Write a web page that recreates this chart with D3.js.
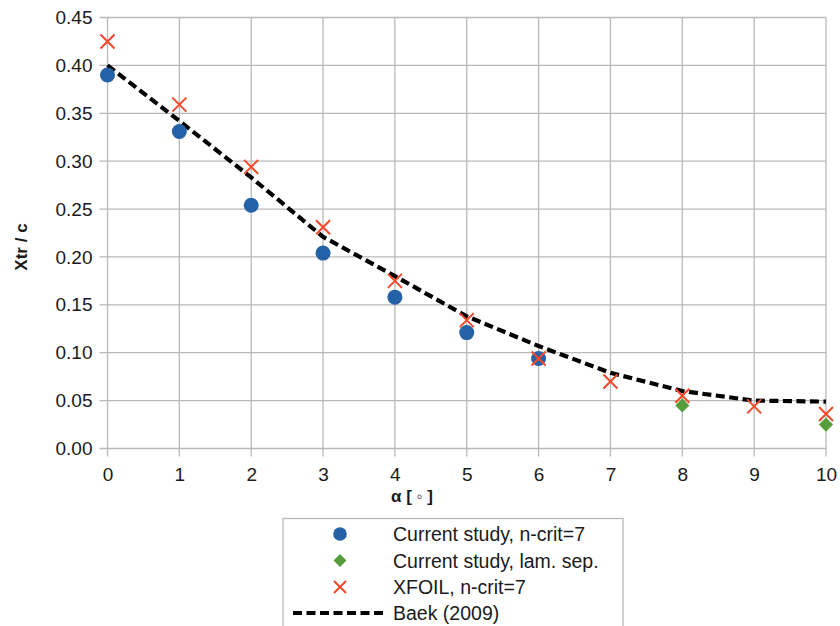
<!DOCTYPE html>
<html>
<head>
<meta charset="utf-8">
<script src="https://cdn.jsdelivr.net/npm/d3@7"></script>
<style>
  html, body { margin: 0; padding: 0; background: #fff; }
  svg { display: block; font-family: "Liberation Sans", Arial, sans-serif; }
</style>
</head>
<body>
<svg id="chart" width="840" height="626"></svg>
<script>
// Transition location vs. angle of attack
const alphaValues = [0, 1, 2, 3, 4, 5, 6, 7, 8, 9, 10];
const xTicks = [0, 1, 2, 3, 4, 5, 6, 7, 8, 9, 10];
const yTicks = [0, 0.05, 0.10, 0.15, 0.20, 0.25, 0.30, 0.35, 0.40, 0.45];

// Current study, n-crit = 7 (alpha 0..6)
const currentAlpha = [0, 1, 2, 3, 4, 5, 6];
const currentXtr = [0.390, 0.331, 0.254, 0.204, 0.158, 0.121, 0.094];

// Current study, laminar separation
const lamSepAlpha = [8, 10];
const lamSepXtr = [0.045, 0.025];

// XFOIL, n-crit = 7
const xfoilAlpha = [0, 1, 2, 3, 4, 5, 6, 7, 8, 9, 10];
const xfoilXtr = [0.425, 0.359, 0.294, 0.231, 0.175, 0.134, 0.094, 0.070, 0.055, 0.044, 0.036];

// Baek (2009)
const baekXtr = [0.400, 0.342, 0.283, 0.221, 0.180, 0.138, 0.107, 0.079, 0.060, 0.050, 0.049];

const legendLabels = [
  "Current study, n-crit=7",
  "Current study, lam. sep.",
  "XFOIL, n-crit=7",
  "Baek (2009)"
];

const colors = { blue: "#2461a6", green: "#579d3c", red: "#f5492a", grid: "#b9b9b9" };

const svg = d3.select("#chart");
const plot = { left: 107.5, right: 826, top: 17.5, bottom: 448.5 };

const x = d3.scaleLinear().domain([0, 10]).range([plot.left, plot.right]);
const y = d3.scaleLinear().domain([0, 0.45]).range([plot.bottom, plot.top]);

// Grid lines with tick extensions
const grid = svg.append("g");
grid.selectAll("line.h").data(yTicks).join("line")
  .attr("x1", plot.left - 8).attr("x2", plot.right)
  .attr("y1", d => y(d)).attr("y2", d => y(d))
  .attr("stroke", colors.grid).attr("stroke-width", 1.3);
grid.selectAll("line.v").data(xTicks).join("line")
  .attr("x1", d => x(d)).attr("x2", d => x(d))
  .attr("y1", plot.top).attr("y2", plot.bottom + 8)
  .attr("stroke", colors.grid).attr("stroke-width", 1.3);

// Axes labels via d3 axes (lines hidden, grid drawn above)
const yAxis = svg.append("g")
  .attr("transform", `translate(${plot.left - 15},0)`)
  .call(d3.axisLeft(y).tickValues(yTicks).tickFormat(d3.format(".2f")).tickSize(0).tickPadding(0));
yAxis.select(".domain").remove();
yAxis.selectAll("text").attr("font-size", 19).attr("fill", "#1a1a1a")
  .attr("font-family", "Liberation Sans, Arial, sans-serif");

const xAxis = svg.append("g")
  .attr("transform", `translate(0,${plot.bottom + 19})`)
  .call(d3.axisBottom(x).tickValues(xTicks).tickFormat(d3.format("d")).tickSize(0).tickPadding(0));
xAxis.select(".domain").remove();
xAxis.selectAll("text").attr("font-size", 19).attr("fill", "#1a1a1a")
  .attr("font-family", "Liberation Sans, Arial, sans-serif");

// Axis titles
svg.append("text")
  .attr("x", 412).attr("y", 502)
  .attr("text-anchor", "middle")
  .attr("font-size", 17).attr("font-weight", "bold").attr("fill", "#1a1a1a")
  .text("α [ ◦ ]");
svg.append("text")
  .attr("transform", "translate(27,247) rotate(-90)")
  .attr("text-anchor", "middle")
  .attr("font-size", 17).attr("font-weight", "bold").attr("fill", "#1a1a1a")
  .text("Xtr / c");

// Baek (2009) dashed line
const line = d3.line().x((d, i) => x(alphaValues[i])).y(d => y(d));
svg.append("path")
  .datum(baekXtr)
  .attr("d", line)
  .attr("fill", "none").attr("stroke", "#000").attr("stroke-width", 4.2)
  .attr("stroke-dasharray", "9,4.5");

// Marker helpers
function drawCross(g, cx, cy, h, w) {
  g.append("path")
    .attr("d", `M${cx - h},${cy - h}L${cx + h},${cy + h}M${cx - h},${cy + h}L${cx + h},${cy - h}`)
    .attr("stroke", colors.red).attr("stroke-width", w).attr("fill", "none");
}
const diamond = d3.symbol().type(d3.symbolDiamond2 || d3.symbolSquare2);

// Current study circles
svg.append("g").selectAll("circle")
  .data(currentXtr).join("circle")
  .attr("cx", (d, i) => x(currentAlpha[i])).attr("cy", d => y(d))
  .attr("r", 7.5).attr("fill", colors.blue);

// Laminar separation diamonds
svg.append("g").selectAll("path")
  .data(lamSepXtr).join("path")
  .attr("d", d3.symbol().type(d3.symbolSquare).size(100)())
  .attr("transform", (d, i) => `translate(${x(lamSepAlpha[i])},${y(d)}) rotate(45)`)
  .attr("fill", colors.green);

// XFOIL crosses
const xg = svg.append("g");
xfoilXtr.forEach((d, i) => drawCross(xg, x(xfoilAlpha[i]), y(d), 7, 2));

// Legend
const lg = svg.append("g");
lg.append("rect")
  .attr("x", 283).attr("y", 518.5).attr("width", 340).attr("height", 130)
  .attr("fill", "#fff").attr("stroke", colors.grid).attr("stroke-width", 1.3);
const rowY = [534, 560.5, 587, 613];
const symX = 340;
lg.append("circle").attr("cx", symX).attr("cy", rowY[0]).attr("r", 6.8).attr("fill", colors.blue);
lg.append("path")
  .attr("d", d3.symbol().type(d3.symbolSquare).size(84)())
  .attr("transform", `translate(${symX},${rowY[1]}) rotate(45)`)
  .attr("fill", colors.green);
drawCross(lg, symX, rowY[2], 6, 2);
lg.append("line")
  .attr("x1", 293).attr("x2", 386).attr("y1", rowY[3]).attr("y2", rowY[3])
  .attr("stroke", "#000").attr("stroke-width", 4.2).attr("stroke-dasharray", "9,4.5");
lg.selectAll("text.lbl").data(legendLabels).join("text")
  .attr("x", 393).attr("y", (d, i) => rowY[i] + 7)
  .attr("font-size", 19.5).attr("fill", "#1a1a1a")
  .text(d => d);
</script>
</body>
</html>
